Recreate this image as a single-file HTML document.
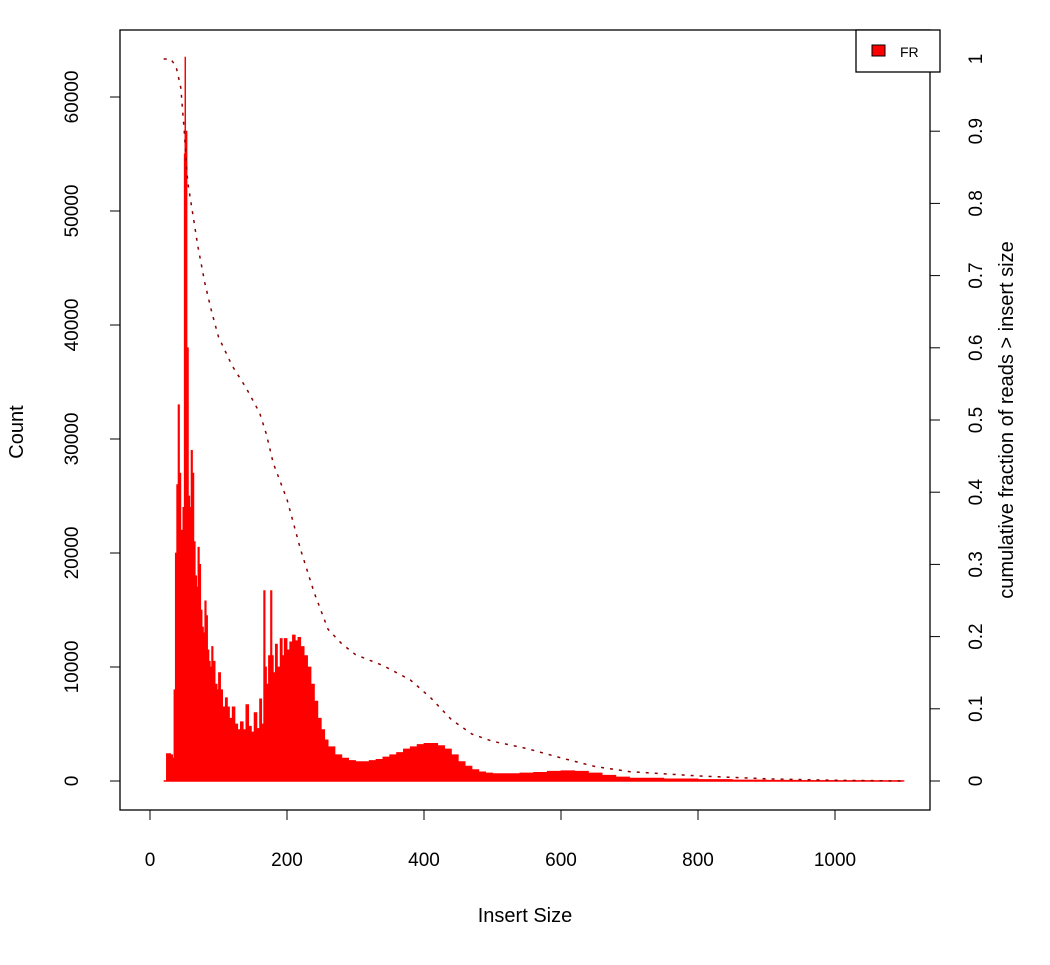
<!DOCTYPE html>
<html><head><meta charset="utf-8"><style>
body{margin:0;background:#fff;}
svg text{font-family:"Liberation Sans",Arial,sans-serif;fill:#000;}
</style></head><body>
<svg id="chart" width="1050" height="960" xmlns="http://www.w3.org/2000/svg">
<rect x="0" y="0" width="1050" height="960" fill="#fff"/>
<g id="bars"></g>
<path id="cum" fill="none" stroke="#8b0000" stroke-width="1.5" stroke-dasharray="3,6"/>
<rect x="120" y="30" width="810" height="780" fill="none" stroke="#000" stroke-width="1.3"/>
<g id="xaxis"></g>
<g id="yaxis"></g>
<g id="raxis"></g>
<text x="525" y="922" font-size="20" text-anchor="middle">Insert Size</text>
<text transform="translate(23,432) rotate(-90)" font-size="20" text-anchor="middle">Count</text>
<text transform="translate(1013,420) rotate(-90)" font-size="20" text-anchor="middle">cumulative fraction of reads &gt; insert size</text>
<g>
<rect x="856" y="30" width="84" height="42" fill="#fff" stroke="#000" stroke-width="1.3"/>
<rect x="872" y="45" width="13" height="11" fill="#f00" stroke="#000" stroke-width="1"/>
<text x="900" y="57" font-size="14">FR</text>
</g>
</svg>
<script>
const sizes=[20,23,24,30,33,35,37,39,41,43,45,47,48,50,51,52,54,56,58,60,62,64,66,68,70,72,74,76,78,80,82,84,86,88,90,92,95,98,100,103,106,110,113,116,120,124,128,132,136,140,144,148,152,156,160,163,166,168,170,173,176,178,180,183,186,190,193,196,200,204,208,212,216,220,225,230,235,240,245,250,255,260,270,280,290,300,310,320,330,340,350,360,370,380,390,400,410,420,430,440,450,460,470,480,490,500,520,540,560,580,600,620,640,660,680,700,750,800,850,900,950,1000,1050,1100];
const counts=[0,0,2400,2300,2000,8000,20000,26000,33000,27000,22000,0,24000,55000,63500,57000,38000,25000,24000,29000,27000,21000,18000,17000,20500,19000,15000,13500,13000,15800,14500,11500,10500,10000,11800,10500,8500,8000,9500,8000,6500,7300,6500,5500,6500,5000,4500,5200,4500,6700,4800,4300,6000,4600,7200,5000,16700,10000,8500,11000,16700,11000,9500,12000,10000,12500,11000,12500,11500,12200,12800,12300,12600,11800,11000,10000,8500,7000,5500,4500,3600,3000,2300,2000,1800,1700,1700,1800,1900,2100,2300,2500,2800,3000,3200,3300,3300,3100,2800,2300,1700,1300,1000,800,700,650,650,700,750,850,900,850,700,500,350,250,180,130,90,60,40,30,15,5];
const cumSizes=[20,30,38,45,50,55,60,70,80,90,100,120,140,160,170,180,200,220,240,260,280,300,340,380,410,440,470,500,550,600,650,700,800,900,1000,1100];
const cumFrac=[1,1,0.99,0.96,0.9,0.83,0.8,0.74,0.69,0.65,0.615,0.575,0.545,0.51,0.48,0.44,0.39,0.32,0.26,0.21,0.19,0.175,0.16,0.14,0.115,0.085,0.065,0.055,0.045,0.032,0.02,0.013,0.007,0.003,0.001,0];
const xTicks=[0,200,400,600,800,1000];
const yTicks=[0,10000,20000,30000,40000,50000,60000];
const rTicks=[0,0.1,0.2,0.3,0.4,0.5,0.6,0.7,0.8,0.9,1];
const NS="http://www.w3.org/2000/svg";
const X=v=>150+v*0.685;
const Y=v=>781-v*0.0114;
const R=v=>781-v*722;
function mk(tag,attrs,parent){const e=document.createElementNS(NS,tag);for(const k in attrs)e.setAttribute(k,attrs[k]);parent.appendChild(e);return e;}
const bars=document.getElementById('bars');
let d='M'+X(sizes[0])+','+Y(0);
for(let i=0;i<sizes.length;i++){
  const x0=X(sizes[i]),x1=i<sizes.length-1?X(sizes[i+1]):X(sizes[i])+1;
  d+=' L'+x0+','+Y(counts[i])+' L'+x1+','+Y(counts[i]);
}
d+=' L'+X(sizes[sizes.length-1])+','+Y(0)+' Z';
const hp=mk('path',{d:d,fill:'#ff0000',stroke:'#ff0000','stroke-width':'0.8'},bars);


mk('line',{x1:X(20),x2:X(1100),y1:Y(0),y2:Y(0),stroke:'#ff0000','stroke-width':1.5},bars);
document.getElementById('cum').setAttribute('d',cumSizes.map((s,i)=>(i?'L':'M')+X(s)+','+R(cumFrac[i])).join(' '));
const xa=document.getElementById('xaxis');
mk('line',{x1:X(0),x2:X(1000),y1:810,y2:810,stroke:'#000'},xa);
xTicks.forEach(t=>{
  mk('line',{x1:X(t),x2:X(t),y1:810,y2:820,stroke:'#000'},xa);
  const tx=mk('text',{x:X(t),y:866,'font-size':19,'text-anchor':'middle'},xa);
  
  
  tx.textContent=t;
});
const ya=document.getElementById('yaxis');
mk('line',{x1:120,x2:120,y1:Y(0),y2:Y(60000),stroke:'#000'},ya);
yTicks.forEach(t=>{
  mk('line',{x1:110,x2:120,y1:Y(t),y2:Y(t),stroke:'#000'},ya);
  const tx=mk('text',{transform:'translate(82,'+Y(t)+') rotate(-90)','font-size':19,'text-anchor':'middle'},ya);
  tx.setAttribute('x',0);
  tx.setAttribute('transform','translate(78,'+Y(t)+') rotate(-90)');
  
  
  tx.textContent=t;
});
const ra=document.getElementById('raxis');
mk('line',{x1:930,x2:930,y1:R(0),y2:R(1),stroke:'#000'},ra);
rTicks.forEach(t=>{
  mk('line',{x1:930,x2:940,y1:R(t),y2:R(t),stroke:'#000'},ra);
  const tx=mk('text',{transform:'translate(982,'+R(t)+') rotate(-90)','font-size':19,'text-anchor':'middle'},ra);
  
  
  tx.textContent=t;
});
</script>
</body></html>
